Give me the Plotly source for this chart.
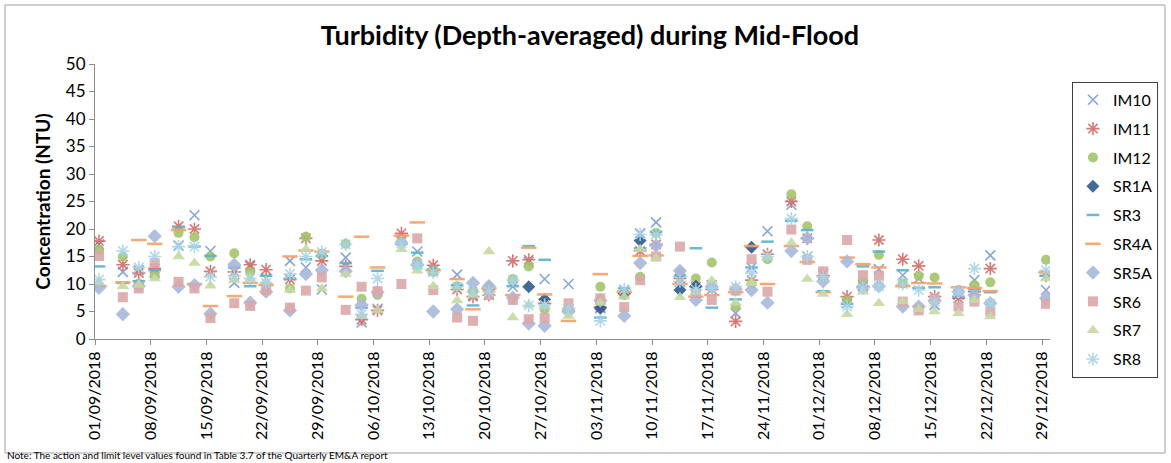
import pandas as pd
import plotly.graph_objects as go

# Sampling dates (mid-flood, around midday)
dates = [
    "2018-09-01", "2018-09-04", "2018-09-06", "2018-09-08", "2018-09-11", "2018-09-13", "2018-09-15",
    "2018-09-18", "2018-09-20", "2018-09-22", "2018-09-25", "2018-09-27", "2018-09-29",
    "2018-10-02", "2018-10-04", "2018-10-06", "2018-10-09", "2018-10-11", "2018-10-13",
    "2018-10-16", "2018-10-18", "2018-10-20", "2018-10-23", "2018-10-25", "2018-10-27", "2018-10-30",
    "2018-11-03", "2018-11-06", "2018-11-08", "2018-11-10", "2018-11-13", "2018-11-15", "2018-11-17",
    "2018-11-20", "2018-11-22", "2018-11-24", "2018-11-27", "2018-11-29",
    "2018-12-01", "2018-12-04", "2018-12-06", "2018-12-08", "2018-12-11", "2018-12-13", "2018-12-15",
    "2018-12-18", "2018-12-20", "2018-12-22", "2018-12-29",
]
sample_time = "12:00"

IM10 = [17.2, 12.2, 12.5, 12.0, 17.0, 22.5, 16.0, 10.2, 13.2, 11.0, 14.2, 13.0, 9.0,
        14.8, 3.0, 5.5, 18.0, 15.9, 12.5, 11.7, 8.0, 8.0, 9.5, 14.0, 10.9, 10.0,
        5.6, 8.9, 19.2, 21.2, 10.4, 8.9, 9.8, 4.7, 13.0, 19.6, 24.4, 15.0,
        11.9, 6.5, 9.8, 12.7, 11.6, 11.0, 6.2, 8.0, 10.7, 15.2, 8.9]
IM11 = [17.8, 13.5, 12.0, 12.8, 20.5, 20.0, 12.3, 12.2, 13.5, 12.6, 10.8, 18.3, 14.2,
        13.2, 3.5, 5.2, 19.2, 13.5, 13.4, 9.0, 7.7, 8.0, 14.2, 14.4, 6.5, 5.5,
        5.8, 8.3, 16.0, 17.2, 11.0, 9.5, 9.0, 3.2, 10.7, 15.4, 25.0, 18.3,
        11.5, 7.7, 9.5, 18.0, 14.5, 13.3, 7.7, 7.4, 8.6, 12.8, 11.5]
IM12 = [16.2, 15.0, 10.1, 11.6, 19.3, 18.5, 15.0, 15.6, 12.2, 9.5, 9.2, 18.6, 15.5,
        17.3, 7.3, 8.0, 17.8, 14.1, 12.2, 9.6, 8.7, 9.6, 10.9, 13.2, 5.4, 5.4,
        9.5, 8.0, 11.3, 19.3, 12.2, 11.0, 13.9, 5.9, 10.1, 14.5, 26.3, 20.5,
        11.3, 7.0, 10.4, 15.3, 10.1, 11.5, 11.2, 8.9, 9.8, 10.3, 14.4]
SR1A = [None] * 23 + [9.5, 7.2, None, 5.6, 8.3, 17.9, None, 8.9, 9.6, None, None, 16.7,
        None, None, None, None, None, None, None, None, None, None, None, None, None, None]
SR3 = [13.2, 10.2, 10.5, 12.5, 20.3, 16.8, 15.1, 13.0, 9.6, 11.5, 11.0, 14.5, 15.1,
       13.8, 5.7, 12.4, 17.3, 15.7, 12.7, 9.8, 6.1, 9.0, 9.6, 16.9, 14.4, 5.0,
       3.9, 9.2, 16.5, 19.5, 11.5, 16.5, 5.7, 7.2, 13.0, 17.7, 21.5, 19.8,
       8.7, 6.4, 13.2, 15.9, 12.5, 9.3, 9.4, 7.7, 9.0, 8.5, 11.5]
SR4A = [9.6, 10.3, 18.0, 17.3, 19.8, 10.0, 6.0, 7.8, 10.2, 9.8, 15.0, 16.1, 15.9,
        7.7, 18.6, 13.0, 18.8, 21.2, 12.5, 10.9, 5.4, 9.2, 8.0, 16.6, 8.1, 3.3,
        11.8, 8.6, 15.1, 15.2, 10.0, 7.7, 8.0, 8.5, 16.9, 10.0, 16.9, 14.0,
        8.5, 14.8, 13.6, 13.0, 9.6, 10.2, 10.1, 9.4, 9.3, 8.7, 12.1]
SR5A = [9.3, 4.5, 9.6, 18.7, 9.5, 9.8, 4.6, 13.5, 6.6, 8.6, 5.2, 11.8, 12.5,
        12.3, 6.2, 8.5, 17.5, 13.5, 5.0, 5.4, 10.2, 9.6, 7.5, 2.8, 2.4, 5.0,
        7.0, 4.2, 13.8, 17.0, 12.4, 7.1, 9.5, 9.0, 8.9, 6.6, 16.0, 18.3,
        10.5, 14.1, 9.5, 9.6, 5.9, 5.9, 7.0, 8.6, 8.0, 6.5, 7.4]
SR6 = [15.1, 7.6, 9.2, 13.8, 10.4, 9.2, 3.8, 6.5, 6.0, 8.9, 5.7, 8.8, 11.2,
       5.3, 9.5, 8.7, 10.0, 18.3, 8.9, 3.9, 3.3, 8.0, 7.1, 3.6, 3.8, 6.5,
       7.4, 5.8, 10.7, 15.0, 16.8, 8.3, 7.1, 8.8, 14.5, 8.6, 19.9, 14.4,
       12.3, 18.0, 11.6, 11.5, 6.8, 5.2, 7.2, 5.9, 6.8, 5.0, 6.4]
SR7 = [10.3, 9.6, 9.8, 11.0, 15.0, 13.8, 9.7, 10.7, 11.0, 10.5, 8.9, 16.3, 9.2,
       11.8, 4.2, 5.2, 16.3, 12.4, 9.6, 7.0, 8.0, 15.9, 3.9, 6.2, 6.0, 4.2,
       6.6, 7.7, 16.3, 14.7, 7.6, 8.6, 10.6, 6.6, 10.2, 14.8, 17.5, 10.9,
       8.2, 4.5, 8.6, 6.5, 6.8, 5.4, 5.0, 4.7, 7.1, 4.1, 11.0]
SR8 = [10.8, 16.0, 13.0, 15.0, 16.8, 16.8, 11.3, 11.5, 11.0, 10.2, 11.8, 15.0, 15.8,
       17.2, 4.5, 11.0, 17.4, 13.5, 12.1, 9.5, 8.6, 8.6, 10.7, 6.1, 6.2, 5.6,
       3.3, 9.0, 19.0, 19.0, 10.5, 9.0, 9.2, 9.5, 12.0, 15.0, 21.9, 15.0,
       11.3, 5.9, 9.2, 9.6, 10.0, 8.9, 6.8, 8.6, 12.8, 6.4, 12.5]

series_names = ["IM10", "IM11", "IM12", "SR1A", "SR3", "SR4A", "SR5A", "SR6", "SR7", "SR8"]
series_values = [IM10, IM11, IM12, SR1A, SR3, SR4A, SR5A, SR6, SR7, SR8]

tick_dates = ["2018-09-01", "2018-09-08", "2018-09-15", "2018-09-22", "2018-09-29",
              "2018-10-06", "2018-10-13", "2018-10-20", "2018-10-27", "2018-11-03",
              "2018-11-10", "2018-11-17", "2018-11-24", "2018-12-01", "2018-12-08",
              "2018-12-15", "2018-12-22", "2018-12-29"]
tick_labels = [pd.Timestamp(d).strftime("%d/%m/%Y") for d in tick_dates]

styles = {
    "IM10": dict(symbol="x-thin-open", color="#7A9BD3", size=10, line=dict(width=1.6, color="#7A9BD3")),
    "IM11": dict(symbol="asterisk-open", color="#D46B68", size=11, line=dict(width=1.6, color="#D46B68")),
    "IM12": dict(symbol="circle", color="#A3C46A", size=10, line=dict(width=0)),
    "SR1A": dict(symbol="diamond", color="#2F5A8E", size=10, line=dict(width=0)),
    "SR3": dict(symbol="line-ew-open", color="#5BB3CE", size=9, line=dict(width=2.5, color="#5BB3CE")),
    "SR4A": dict(symbol="line-ew-open", color="#F7A064", size=11, line=dict(width=2.5, color="#F7A064")),
    "SR5A": dict(symbol="diamond", color="#A8B8DC", size=11, line=dict(width=0)),
    "SR6": dict(symbol="square", color="#DBA7A9", size=10, line=dict(width=0)),
    "SR7": dict(symbol="triangle-up", color="#C6D9A3", size=11, line=dict(width=0)),
    "SR8": dict(symbol="asterisk-open", color="#A8D4E6", size=11, line=dict(width=1.6, color="#A8D4E6")),
}

x_vals = pd.to_datetime([f"{d} {sample_time}" for d in dates])

fig = go.Figure()
for name, vals in zip(series_names, series_values):
    st = styles[name]
    fig.add_trace(go.Scatter(
        x=x_vals, y=vals, mode="markers", name=name, legendgroup=name,
        marker=dict(symbol=st["symbol"], color=st["color"], size=st["size"], line=st["line"],
                    opacity=0.9),
    ))

font_family = "Lato, Carlito, 'Open Sans', sans-serif"

fig.update_layout(
    width=1171, height=463,
    margin=dict(l=95, r=121, t=64, b=124),
    paper_bgcolor="white", plot_bgcolor="white",
    font=dict(family=font_family, color="black", size=16),
    title=dict(text="<b>Turbidity (Depth-averaged) during Mid-Flood</b>",
               x=(590 - 95) / 955, xref="paper", xanchor="center",
               y=(463 - 36) / 463, yanchor="middle",
               font=dict(size=27, family=font_family, color="black")),
    xaxis=dict(
        type="date",
        range=["2018-09-01", "2018-12-30"],
        tickmode="array", tickvals=tick_dates, ticktext=tick_labels,
        tickangle=-90, tickfont=dict(size=16),
        showgrid=False, zeroline=False,
        showline=True, linecolor="#8C8C8C", linewidth=1,
        ticks="outside", ticklen=5, tickcolor="#8C8C8C",
    ),
    yaxis=dict(
        range=[0, 50], tickmode="linear", tick0=0, dtick=5,
        tickfont=dict(size=17),
        showgrid=False, zeroline=False,
        showline=True, linecolor="#8C8C8C", linewidth=1,
        ticks="outside", ticklen=5, tickcolor="#8C8C8C",
        title=dict(text="<b>Concentration (NTU)</b>", font=dict(size=19), standoff=10),
    ),
    legend=dict(
        x=1.023, xanchor="left", y=0.935, yanchor="top",
        bordercolor="#404040", borderwidth=1, bgcolor="white",
        font=dict(size=16), tracegroupgap=5, traceorder="grouped",
        itemwidth=30, maxheight=320,
    ),
    showlegend=True,
)

# Chart frame
fig.add_shape(type="rect", xref="paper", yref="paper",
              x0=(5 - 95) / 955, x1=(1165 - 95) / 955,
              y0=(339 - 453) / 275, y1=(339 - 5) / 275,
              line=dict(color="#A0A0A0", width=1), fillcolor="rgba(0,0,0,0)", layer="below")

fig.add_annotation(
    text="Note: The action and limit level values found in Table 3.7 of the Quarterly EM&A report",
    xref="paper", yref="paper", x=(5 - 95) / 955, y=(339 - 463) / 275,
    xanchor="left", yanchor="bottom", showarrow=False, font=dict(size=10, family=font_family),
)

fig.write_html("out.html",
               config={"displayModeBar": False},
               post_script="document.body.style.margin='0';document.body.style.overflow='hidden';")
